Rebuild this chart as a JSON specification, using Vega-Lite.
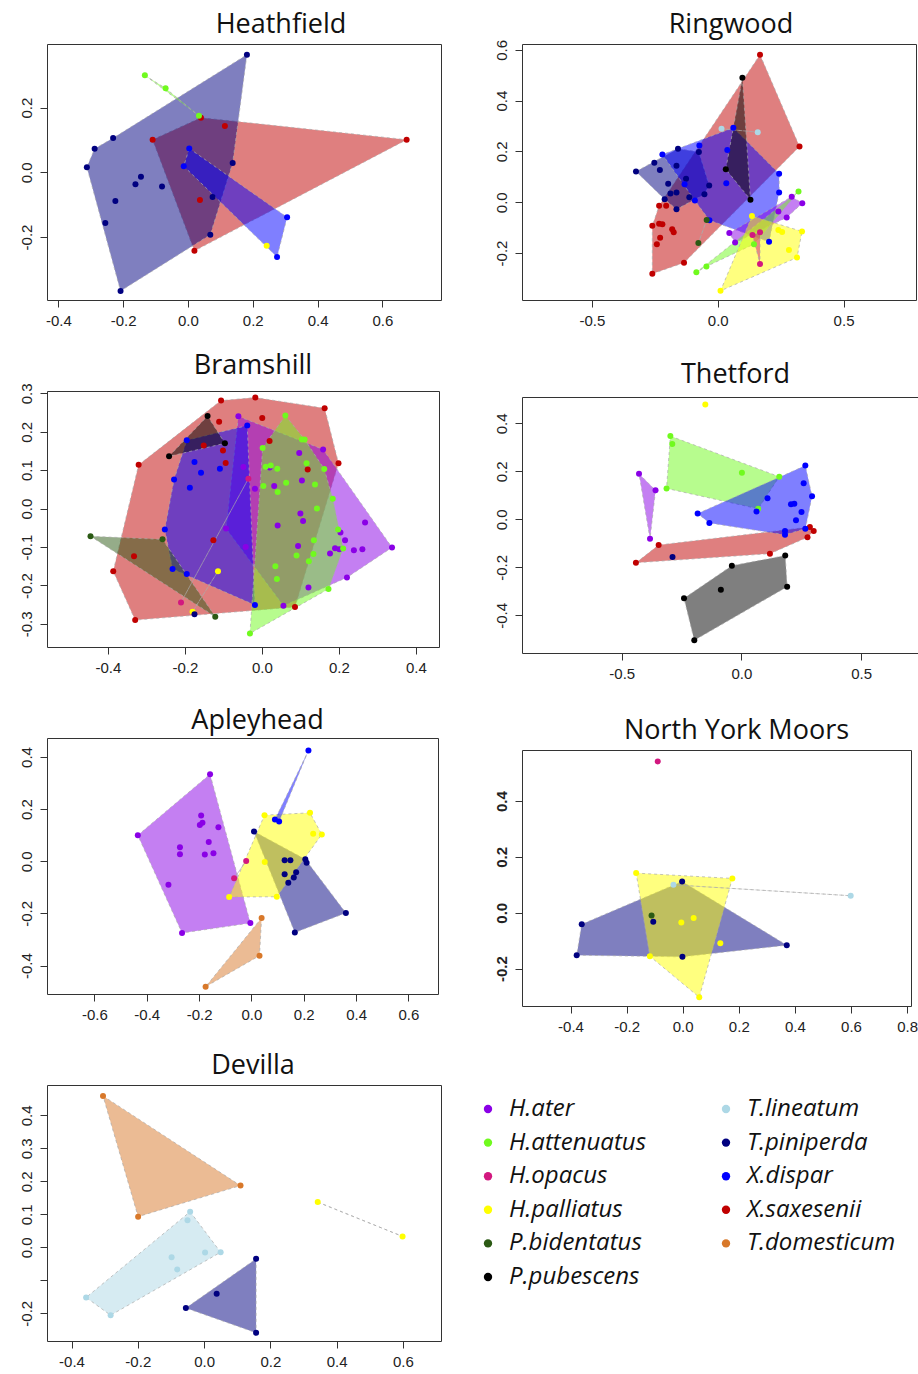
{
"$schema": "https://vega.github.io/schema/vega-lite/v6.json",
"background": "white",
"padding": {"left": 18, "top": 10, "right": 0, "bottom": 0},
"config": {
  "view": {"stroke": "#333", "strokeWidth": 1},
  "axis": {"domain": false, "grid": false, "ticks": true, "tickSize": 7, "tickColor": "#333", "labelFont": "Liberation Sans", "labelFontSize": 15, "labelColor": "#222", "labelOverlap": false, "labelFlush": false, "labelExpr": "replace(format(datum.value, '.1f'), '\u2212', '-')"},
  "axisX": {"labelPadding": 6},
  "axisY": {"labelAngle": -90, "labelAlign": "center", "labelBaseline": "bottom", "labelPadding": 6},
  "title": {"font": "Open Sans", "fontSize": 27, "fontWeight": "normal", "color": "#111", "baseline": "alphabetic", "frame": "group", "anchor": "middle"}
},
"datasets": {"pts": [
{"p":"Heathfield","sp":"X.saxesenii","x":-0.109,"y":0.101,"h":1},
{"p":"Heathfield","sp":"X.saxesenii","x":0.040,"y":0.169,"h":2},
{"p":"Heathfield","sp":"X.saxesenii","x":0.675,"y":0.101,"h":3},
{"p":"Heathfield","sp":"X.saxesenii","x":0.020,"y":-0.243,"h":4},
{"p":"Heathfield","sp":"X.saxesenii","x":0.114,"y":0.143},
{"p":"Heathfield","sp":"X.saxesenii","x":0.037,"y":-0.086},
{"p":"Heathfield","sp":"T.piniperda","x":0.182,"y":0.364,"h":1},
{"p":"Heathfield","sp":"T.piniperda","x":0.138,"y":0.029,"h":2},
{"p":"Heathfield","sp":"T.piniperda","x":0.069,"y":-0.193,"h":3},
{"p":"Heathfield","sp":"T.piniperda","x":-0.208,"y":-0.367,"h":4},
{"p":"Heathfield","sp":"T.piniperda","x":-0.312,"y":0.016,"h":5},
{"p":"Heathfield","sp":"T.piniperda","x":-0.288,"y":0.073,"h":6},
{"p":"Heathfield","sp":"T.piniperda","x":-0.231,"y":0.106,"h":7},
{"p":"Heathfield","sp":"T.piniperda","x":-0.255,"y":-0.157},
{"p":"Heathfield","sp":"T.piniperda","x":-0.224,"y":-0.089},
{"p":"Heathfield","sp":"T.piniperda","x":-0.162,"y":-0.037},
{"p":"Heathfield","sp":"T.piniperda","x":-0.145,"y":-0.014},
{"p":"Heathfield","sp":"T.piniperda","x":-0.080,"y":-0.044},
{"p":"Heathfield","sp":"T.piniperda","x":0.076,"y":-0.076},
{"p":"Heathfield","sp":"X.dispar","x":0.004,"y":0.074,"h":1},
{"p":"Heathfield","sp":"X.dispar","x":0.306,"y":-0.139,"h":2},
{"p":"Heathfield","sp":"X.dispar","x":0.275,"y":-0.262,"h":3},
{"p":"Heathfield","sp":"X.dispar","x":-0.013,"y":0.019,"h":4},
{"p":"Heathfield","sp":"H.attenuatus","x":-0.133,"y":0.300,"h":1},
{"p":"Heathfield","sp":"H.attenuatus","x":-0.069,"y":0.260,"h":2},
{"p":"Heathfield","sp":"H.attenuatus","x":0.034,"y":0.175,"h":3},
{"p":"Heathfield","sp":"H.palliatus","x":0.243,"y":-0.227},

{"p":"Ringwood","sp":"X.saxesenii","x":0.168,"y":0.581,"h":1},
{"p":"Ringwood","sp":"X.saxesenii","x":0.325,"y":0.219,"h":2},
{"p":"Ringwood","sp":"X.saxesenii","x":-0.134,"y":-0.238,"h":3},
{"p":"Ringwood","sp":"X.saxesenii","x":-0.260,"y":-0.282,"h":4},
{"p":"Ringwood","sp":"X.saxesenii","x":-0.260,"y":-0.093,"h":5},
{"p":"Ringwood","sp":"X.saxesenii","x":-0.233,"y":-0.014,"h":6},
{"p":"Ringwood","sp":"X.saxesenii","x":-0.205,"y":-0.014},
{"p":"Ringwood","sp":"X.saxesenii","x":-0.233,"y":-0.085},
{"p":"Ringwood","sp":"X.saxesenii","x":-0.220,"y":-0.087},
{"p":"Ringwood","sp":"X.saxesenii","x":-0.181,"y":-0.106},
{"p":"Ringwood","sp":"X.saxesenii","x":-0.175,"y":-0.118},
{"p":"Ringwood","sp":"X.saxesenii","x":-0.229,"y":-0.140},
{"p":"Ringwood","sp":"X.saxesenii","x":-0.242,"y":-0.165},
{"p":"Ringwood","sp":"T.piniperda","x":-0.325,"y":0.121,"h":1},
{"p":"Ringwood","sp":"T.piniperda","x":-0.158,"y":0.211,"h":2},
{"p":"Ringwood","sp":"T.piniperda","x":-0.075,"y":0.198,"h":3},
{"p":"Ringwood","sp":"T.piniperda","x":-0.034,"y":0.066,"h":4},
{"p":"Ringwood","sp":"T.piniperda","x":-0.053,"y":0.031,"h":5},
{"p":"Ringwood","sp":"T.piniperda","x":-0.164,"y":-0.028,"h":6},
{"p":"Ringwood","sp":"T.piniperda","x":-0.211,"y":0.012,"h":7},
{"p":"Ringwood","sp":"T.piniperda","x":-0.252,"y":0.155},
{"p":"Ringwood","sp":"T.piniperda","x":-0.230,"y":0.127},
{"p":"Ringwood","sp":"T.piniperda","x":-0.164,"y":0.144},
{"p":"Ringwood","sp":"T.piniperda","x":-0.197,"y":0.073},
{"p":"Ringwood","sp":"T.piniperda","x":-0.188,"y":0.034},
{"p":"Ringwood","sp":"T.piniperda","x":-0.164,"y":0.038},
{"p":"Ringwood","sp":"T.piniperda","x":-0.126,"y":0.092},
{"p":"Ringwood","sp":"T.piniperda","x":-0.113,"y":0.020},
{"p":"Ringwood","sp":"X.dispar","x":0.062,"y":0.293,"h":1},
{"p":"Ringwood","sp":"X.dispar","x":0.244,"y":0.112,"h":2},
{"p":"Ringwood","sp":"X.dispar","x":0.244,"y":0.038,"h":3},
{"p":"Ringwood","sp":"X.dispar","x":0.204,"y":-0.156,"h":4},
{"p":"Ringwood","sp":"X.dispar","x":-0.033,"y":-0.071,"h":5},
{"p":"Ringwood","sp":"X.dispar","x":-0.091,"y":0.007,"h":6},
{"p":"Ringwood","sp":"X.dispar","x":-0.220,"y":0.188,"h":7},
{"p":"Ringwood","sp":"X.dispar","x":-0.073,"y":0.223},
{"p":"Ringwood","sp":"X.dispar","x":0.038,"y":0.206},
{"p":"Ringwood","sp":"X.dispar","x":0.034,"y":0.075},
{"p":"Ringwood","sp":"X.dispar","x":-0.132,"y":0.071},
{"p":"Ringwood","sp":"P.pubescens","x":0.098,"y":0.490,"h":1},
{"p":"Ringwood","sp":"P.pubescens","x":0.130,"y":0.010,"h":2},
{"p":"Ringwood","sp":"P.pubescens","x":0.032,"y":0.130,"h":3},
{"p":"Ringwood","sp":"T.lineatum","x":0.015,"y":0.289,"h":1},
{"p":"Ringwood","sp":"T.lineatum","x":0.159,"y":0.276,"h":2},
{"p":"Ringwood","sp":"H.ater","x":0.294,"y":0.022,"h":1},
{"p":"Ringwood","sp":"H.ater","x":0.336,"y":-0.004,"h":2},
{"p":"Ringwood","sp":"H.ater","x":0.274,"y":-0.060,"h":3},
{"p":"Ringwood","sp":"H.ater","x":0.069,"y":-0.159,"h":4},
{"p":"Ringwood","sp":"H.ater","x":0.046,"y":-0.121,"h":5},
{"p":"Ringwood","sp":"H.ater","x":0.241,"y":-0.037},
{"p":"Ringwood","sp":"H.attenuatus","x":0.321,"y":0.042,"h":1},
{"p":"Ringwood","sp":"H.attenuatus","x":0.144,"y":-0.165,"h":2},
{"p":"Ringwood","sp":"H.attenuatus","x":-0.045,"y":-0.253,"h":3},
{"p":"Ringwood","sp":"H.attenuatus","x":-0.085,"y":-0.276,"h":4},
{"p":"Ringwood","sp":"P.bidentatus","x":-0.044,"y":-0.070,"h":1},
{"p":"Ringwood","sp":"P.bidentatus","x":-0.077,"y":-0.161,"h":2},
{"p":"Ringwood","sp":"H.palliatus","x":0.136,"y":-0.054,"h":1},
{"p":"Ringwood","sp":"H.palliatus","x":0.335,"y":-0.115,"h":2},
{"p":"Ringwood","sp":"H.palliatus","x":0.315,"y":-0.218,"h":3},
{"p":"Ringwood","sp":"H.palliatus","x":0.011,"y":-0.349,"h":4},
{"p":"Ringwood","sp":"H.palliatus","x":0.241,"y":-0.109},
{"p":"Ringwood","sp":"H.palliatus","x":0.256,"y":-0.117},
{"p":"Ringwood","sp":"H.palliatus","x":0.283,"y":-0.188},
{"p":"Ringwood","sp":"H.opacus","x":0.168,"y":-0.118,"h":1},
{"p":"Ringwood","sp":"H.opacus","x":0.168,"y":-0.243,"h":2},
{"p":"Ringwood","sp":"H.opacus","x":0.138,"y":-0.129,"h":3},

{"p":"Bramshill","sp":"X.saxesenii","x":-0.320,"y":0.114,"h":1},
{"p":"Bramshill","sp":"X.saxesenii","x":-0.106,"y":0.281,"h":2},
{"p":"Bramshill","sp":"X.saxesenii","x":-0.017,"y":0.289,"h":3},
{"p":"Bramshill","sp":"X.saxesenii","x":0.163,"y":0.261,"h":4},
{"p":"Bramshill","sp":"X.saxesenii","x":0.199,"y":0.118,"h":5},
{"p":"Bramshill","sp":"X.saxesenii","x":0.086,"y":-0.256,"h":6},
{"p":"Bramshill","sp":"X.saxesenii","x":-0.329,"y":-0.290,"h":7},
{"p":"Bramshill","sp":"X.saxesenii","x":-0.386,"y":-0.163,"h":8},
{"p":"Bramshill","sp":"X.saxesenii","x":-0.111,"y":0.226},
{"p":"Bramshill","sp":"X.saxesenii","x":0.001,"y":0.236},
{"p":"Bramshill","sp":"X.saxesenii","x":0.020,"y":0.176},
{"p":"Bramshill","sp":"X.saxesenii","x":-0.151,"y":0.164},
{"p":"Bramshill","sp":"X.saxesenii","x":-0.101,"y":0.151},
{"p":"Bramshill","sp":"X.saxesenii","x":-0.094,"y":0.119},
{"p":"Bramshill","sp":"X.saxesenii","x":0.119,"y":0.102},
{"p":"Bramshill","sp":"X.saxesenii","x":-0.126,"y":-0.082},
{"p":"Bramshill","sp":"X.saxesenii","x":-0.332,"y":-0.124},
{"p":"Bramshill","sp":"H.ater","x":-0.061,"y":0.240,"h":1},
{"p":"Bramshill","sp":"H.ater","x":0.159,"y":0.154,"h":2},
{"p":"Bramshill","sp":"H.ater","x":0.338,"y":-0.101,"h":3},
{"p":"Bramshill","sp":"H.ater","x":0.221,"y":-0.179,"h":4},
{"p":"Bramshill","sp":"H.ater","x":0.056,"y":-0.253,"h":5},
{"p":"Bramshill","sp":"H.ater","x":-0.093,"y":-0.052,"h":6},
{"p":"Bramshill","sp":"H.ater","x":0.097,"y":0.145},
{"p":"Bramshill","sp":"H.ater","x":-0.048,"y":0.108},
{"p":"Bramshill","sp":"H.ater","x":-0.018,"y":0.052},
{"p":"Bramshill","sp":"H.ater","x":0.032,"y":0.059},
{"p":"Bramshill","sp":"H.ater","x":0.020,"y":0.107},
{"p":"Bramshill","sp":"H.ater","x":0.104,"y":0.073},
{"p":"Bramshill","sp":"H.ater","x":0.100,"y":-0.013},
{"p":"Bramshill","sp":"H.ater","x":0.107,"y":-0.032},
{"p":"Bramshill","sp":"H.ater","x":0.041,"y":-0.044},
{"p":"Bramshill","sp":"H.ater","x":0.268,"y":-0.036},
{"p":"Bramshill","sp":"H.ater","x":0.204,"y":-0.062},
{"p":"Bramshill","sp":"H.ater","x":0.216,"y":-0.082},
{"p":"Bramshill","sp":"H.ater","x":0.190,"y":-0.103},
{"p":"Bramshill","sp":"H.ater","x":0.201,"y":-0.106},
{"p":"Bramshill","sp":"H.ater","x":0.177,"y":-0.117},
{"p":"Bramshill","sp":"H.ater","x":0.239,"y":-0.108},
{"p":"Bramshill","sp":"H.ater","x":0.261,"y":-0.106},
{"p":"Bramshill","sp":"H.ater","x":0.094,"y":-0.097},
{"p":"Bramshill","sp":"H.ater","x":-0.042,"y":-0.100},
{"p":"Bramshill","sp":"H.ater","x":0.121,"y":-0.205},
{"p":"Bramshill","sp":"X.dispar","x":-0.038,"y":0.216,"h":1},
{"p":"Bramshill","sp":"X.dispar","x":-0.018,"y":-0.251,"h":2},
{"p":"Bramshill","sp":"X.dispar","x":-0.232,"y":-0.157,"h":3},
{"p":"Bramshill","sp":"X.dispar","x":-0.252,"y":-0.054,"h":4},
{"p":"Bramshill","sp":"X.dispar","x":-0.228,"y":0.076,"h":5},
{"p":"Bramshill","sp":"X.dispar","x":-0.195,"y":0.178,"h":6},
{"p":"Bramshill","sp":"X.dispar","x":-0.175,"y":0.121},
{"p":"Bramshill","sp":"X.dispar","x":-0.158,"y":0.093},
{"p":"Bramshill","sp":"X.dispar","x":-0.109,"y":0.104},
{"p":"Bramshill","sp":"X.dispar","x":-0.187,"y":0.054},
{"p":"Bramshill","sp":"X.dispar","x":-0.195,"y":-0.170},
{"p":"Bramshill","sp":"H.attenuatus","x":0.061,"y":0.242,"h":1},
{"p":"Bramshill","sp":"H.attenuatus","x":0.111,"y":0.180,"h":2},
{"p":"Bramshill","sp":"H.attenuatus","x":0.162,"y":0.103,"h":3},
{"p":"Bramshill","sp":"H.attenuatus","x":0.184,"y":0.026,"h":4},
{"p":"Bramshill","sp":"H.attenuatus","x":0.211,"y":-0.104,"h":5},
{"p":"Bramshill","sp":"H.attenuatus","x":0.173,"y":-0.209,"h":6},
{"p":"Bramshill","sp":"H.attenuatus","x":-0.031,"y":-0.325,"h":7},
{"p":"Bramshill","sp":"H.attenuatus","x":0.002,"y":0.158,"h":8},
{"p":"Bramshill","sp":"H.attenuatus","x":0.104,"y":0.180},
{"p":"Bramshill","sp":"H.attenuatus","x":0.010,"y":0.109},
{"p":"Bramshill","sp":"H.attenuatus","x":0.023,"y":0.112},
{"p":"Bramshill","sp":"H.attenuatus","x":0.040,"y":0.104},
{"p":"Bramshill","sp":"H.attenuatus","x":0.116,"y":0.118},
{"p":"Bramshill","sp":"H.attenuatus","x":0.004,"y":0.059},
{"p":"Bramshill","sp":"H.attenuatus","x":0.041,"y":0.043},
{"p":"Bramshill","sp":"H.attenuatus","x":0.063,"y":0.067},
{"p":"Bramshill","sp":"H.attenuatus","x":0.138,"y":0.063},
{"p":"Bramshill","sp":"H.attenuatus","x":0.143,"y":0.000},
{"p":"Bramshill","sp":"H.attenuatus","x":0.198,"y":-0.054},
{"p":"Bramshill","sp":"H.attenuatus","x":0.135,"y":-0.082},
{"p":"Bramshill","sp":"H.attenuatus","x":0.134,"y":-0.118},
{"p":"Bramshill","sp":"H.attenuatus","x":0.090,"y":-0.122},
{"p":"Bramshill","sp":"H.attenuatus","x":0.122,"y":-0.137},
{"p":"Bramshill","sp":"H.attenuatus","x":0.035,"y":-0.150},
{"p":"Bramshill","sp":"H.attenuatus","x":0.039,"y":-0.183},
{"p":"Bramshill","sp":"P.pubescens","x":-0.141,"y":0.241,"h":1},
{"p":"Bramshill","sp":"P.pubescens","x":-0.096,"y":0.170,"h":2},
{"p":"Bramshill","sp":"P.pubescens","x":-0.241,"y":0.136,"h":3},
{"p":"Bramshill","sp":"P.bidentatus","x":-0.445,"y":-0.072,"h":1},
{"p":"Bramshill","sp":"P.bidentatus","x":-0.258,"y":-0.080,"h":2},
{"p":"Bramshill","sp":"P.bidentatus","x":-0.121,"y":-0.281,"h":3},
{"p":"Bramshill","sp":"H.palliatus","x":-0.114,"y":-0.163,"h":1},
{"p":"Bramshill","sp":"H.palliatus","x":-0.180,"y":-0.268,"h":2},
{"p":"Bramshill","sp":"H.opacus","x":-0.035,"y":0.078,"h":1},
{"p":"Bramshill","sp":"H.opacus","x":-0.210,"y":-0.244,"h":2},
{"p":"Bramshill","sp":"T.piniperda","x":-0.175,"y":-0.275},

{"p":"Thetford","sp":"X.saxesenii","x":-0.441,"y":-0.181,"h":1},
{"p":"Thetford","sp":"X.saxesenii","x":-0.346,"y":-0.107,"h":2},
{"p":"Thetford","sp":"X.saxesenii","x":0.286,"y":-0.032,"h":3},
{"p":"Thetford","sp":"X.saxesenii","x":0.302,"y":-0.049,"h":4},
{"p":"Thetford","sp":"X.saxesenii","x":0.276,"y":-0.075,"h":5},
{"p":"Thetford","sp":"X.saxesenii","x":0.119,"y":-0.143,"h":6},
{"p":"Thetford","sp":"P.pubescens","x":-0.240,"y":-0.329,"h":1},
{"p":"Thetford","sp":"P.pubescens","x":-0.040,"y":-0.193,"h":2},
{"p":"Thetford","sp":"P.pubescens","x":0.183,"y":-0.151,"h":3},
{"p":"Thetford","sp":"P.pubescens","x":0.191,"y":-0.281,"h":4},
{"p":"Thetford","sp":"P.pubescens","x":-0.197,"y":-0.504,"h":5},
{"p":"Thetford","sp":"P.pubescens","x":-0.086,"y":-0.293},
{"p":"Thetford","sp":"H.attenuatus","x":-0.297,"y":0.347,"h":1},
{"p":"Thetford","sp":"H.attenuatus","x":0.158,"y":0.178,"h":2},
{"p":"Thetford","sp":"H.attenuatus","x":0.070,"y":0.044,"h":3},
{"p":"Thetford","sp":"H.attenuatus","x":-0.313,"y":0.129,"h":4},
{"p":"Thetford","sp":"H.attenuatus","x":-0.289,"y":0.314},
{"p":"Thetford","sp":"H.attenuatus","x":0.002,"y":0.194},
{"p":"Thetford","sp":"X.dispar","x":-0.183,"y":0.024,"h":1},
{"p":"Thetford","sp":"X.dispar","x":0.267,"y":0.224,"h":2},
{"p":"Thetford","sp":"X.dispar","x":0.295,"y":0.096,"h":3},
{"p":"Thetford","sp":"X.dispar","x":0.267,"y":-0.039,"h":4},
{"p":"Thetford","sp":"X.dispar","x":0.182,"y":-0.064,"h":5},
{"p":"Thetford","sp":"X.dispar","x":-0.134,"y":-0.015,"h":6},
{"p":"Thetford","sp":"X.dispar","x":0.260,"y":0.150},
{"p":"Thetford","sp":"X.dispar","x":0.109,"y":0.088},
{"p":"Thetford","sp":"X.dispar","x":0.207,"y":0.063},
{"p":"Thetford","sp":"X.dispar","x":0.221,"y":0.065},
{"p":"Thetford","sp":"X.dispar","x":0.251,"y":0.031},
{"p":"Thetford","sp":"X.dispar","x":0.228,"y":-0.004},
{"p":"Thetford","sp":"X.dispar","x":0.063,"y":0.033},
{"p":"Thetford","sp":"X.dispar","x":0.182,"y":-0.049},
{"p":"Thetford","sp":"H.ater","x":-0.428,"y":0.190,"h":1},
{"p":"Thetford","sp":"H.ater","x":-0.359,"y":0.121,"h":2},
{"p":"Thetford","sp":"H.ater","x":-0.382,"y":-0.081,"h":3},
{"p":"Thetford","sp":"H.palliatus","x":-0.151,"y":0.479},
{"p":"Thetford","sp":"T.piniperda","x":-0.288,"y":-0.157},

{"p":"Apleyhead","sp":"H.ater","x":-0.158,"y":0.334,"h":1},
{"p":"Apleyhead","sp":"H.ater","x":-0.004,"y":-0.237,"h":2},
{"p":"Apleyhead","sp":"H.ater","x":-0.265,"y":-0.275,"h":3},
{"p":"Apleyhead","sp":"H.ater","x":-0.434,"y":0.100,"h":4},
{"p":"Apleyhead","sp":"H.ater","x":-0.192,"y":0.176},
{"p":"Apleyhead","sp":"H.ater","x":-0.197,"y":0.139},
{"p":"Apleyhead","sp":"H.ater","x":-0.187,"y":0.148},
{"p":"Apleyhead","sp":"H.ater","x":-0.126,"y":0.131},
{"p":"Apleyhead","sp":"H.ater","x":-0.273,"y":0.054},
{"p":"Apleyhead","sp":"H.ater","x":-0.273,"y":0.027},
{"p":"Apleyhead","sp":"H.ater","x":-0.163,"y":0.074},
{"p":"Apleyhead","sp":"H.ater","x":-0.178,"y":0.026},
{"p":"Apleyhead","sp":"H.ater","x":-0.145,"y":0.031},
{"p":"Apleyhead","sp":"H.ater","x":-0.317,"y":-0.090},
{"p":"Apleyhead","sp":"T.piniperda","x":0.010,"y":0.114,"h":1},
{"p":"Apleyhead","sp":"T.piniperda","x":0.206,"y":0.008,"h":2},
{"p":"Apleyhead","sp":"T.piniperda","x":0.361,"y":-0.198,"h":3},
{"p":"Apleyhead","sp":"T.piniperda","x":0.166,"y":-0.273,"h":4},
{"p":"Apleyhead","sp":"T.piniperda","x":0.127,"y":0.004},
{"p":"Apleyhead","sp":"T.piniperda","x":0.149,"y":0.004},
{"p":"Apleyhead","sp":"T.piniperda","x":0.211,"y":-0.006},
{"p":"Apleyhead","sp":"T.piniperda","x":0.127,"y":-0.050},
{"p":"Apleyhead","sp":"T.piniperda","x":0.171,"y":-0.042},
{"p":"Apleyhead","sp":"T.piniperda","x":0.162,"y":-0.062},
{"p":"Apleyhead","sp":"T.piniperda","x":0.141,"y":-0.082},
{"p":"Apleyhead","sp":"H.palliatus","x":0.050,"y":0.177,"h":1},
{"p":"Apleyhead","sp":"H.palliatus","x":0.224,"y":0.186,"h":2},
{"p":"Apleyhead","sp":"H.palliatus","x":0.269,"y":0.103,"h":3},
{"p":"Apleyhead","sp":"H.palliatus","x":0.097,"y":-0.136,"h":4},
{"p":"Apleyhead","sp":"H.palliatus","x":-0.085,"y":-0.137,"h":5},
{"p":"Apleyhead","sp":"H.palliatus","x":0.236,"y":0.106},
{"p":"Apleyhead","sp":"H.palliatus","x":0.051,"y":-0.003},
{"p":"Apleyhead","sp":"X.dispar","x":0.218,"y":0.425,"h":1},
{"p":"Apleyhead","sp":"X.dispar","x":0.106,"y":0.153,"h":2},
{"p":"Apleyhead","sp":"X.dispar","x":0.090,"y":0.160,"h":3},
{"p":"Apleyhead","sp":"T.domesticum","x":0.039,"y":-0.217,"h":1},
{"p":"Apleyhead","sp":"T.domesticum","x":0.031,"y":-0.362,"h":2},
{"p":"Apleyhead","sp":"T.domesticum","x":-0.175,"y":-0.481,"h":3},
{"p":"Apleyhead","sp":"H.opacus","x":-0.020,"y":0.001,"h":1},
{"p":"Apleyhead","sp":"H.opacus","x":-0.066,"y":-0.065,"h":2},

{"p":"North York Moors","sp":"T.piniperda","x":-0.002,"y":0.112,"h":1},
{"p":"North York Moors","sp":"T.piniperda","x":0.371,"y":-0.116,"h":2},
{"p":"North York Moors","sp":"T.piniperda","x":-0.001,"y":-0.158,"h":3},
{"p":"North York Moors","sp":"T.piniperda","x":-0.378,"y":-0.152,"h":4},
{"p":"North York Moors","sp":"T.piniperda","x":-0.360,"y":-0.041,"h":5},
{"p":"North York Moors","sp":"T.piniperda","x":-0.105,"y":-0.032},
{"p":"North York Moors","sp":"H.palliatus","x":-0.166,"y":0.142,"h":1},
{"p":"North York Moors","sp":"H.palliatus","x":0.177,"y":0.123,"h":2},
{"p":"North York Moors","sp":"H.palliatus","x":0.059,"y":-0.303,"h":3},
{"p":"North York Moors","sp":"H.palliatus","x":-0.117,"y":-0.156,"h":4},
{"p":"North York Moors","sp":"H.palliatus","x":-0.005,"y":-0.035},
{"p":"North York Moors","sp":"H.palliatus","x":0.039,"y":-0.019},
{"p":"North York Moors","sp":"H.palliatus","x":0.134,"y":-0.109},
{"p":"North York Moors","sp":"T.lineatum","x":-0.033,"y":0.100,"h":1},
{"p":"North York Moors","sp":"T.lineatum","x":0.599,"y":0.061,"h":2},
{"p":"North York Moors","sp":"P.bidentatus","x":-0.111,"y":-0.010},
{"p":"North York Moors","sp":"H.opacus","x":-0.089,"y":0.542},

{"p":"Devilla","sp":"T.domesticum","x":-0.305,"y":0.459,"h":1},
{"p":"Devilla","sp":"T.domesticum","x":0.110,"y":0.187,"h":2},
{"p":"Devilla","sp":"T.domesticum","x":-0.199,"y":0.093,"h":3},
{"p":"Devilla","sp":"T.lineatum","x":-0.042,"y":0.108,"h":1},
{"p":"Devilla","sp":"T.lineatum","x":0.050,"y":-0.015,"h":2},
{"p":"Devilla","sp":"T.lineatum","x":-0.282,"y":-0.206,"h":3},
{"p":"Devilla","sp":"T.lineatum","x":-0.356,"y":-0.152,"h":4},
{"p":"Devilla","sp":"T.lineatum","x":-0.050,"y":0.082},
{"p":"Devilla","sp":"T.lineatum","x":0.003,"y":-0.016},
{"p":"Devilla","sp":"T.lineatum","x":-0.098,"y":-0.030},
{"p":"Devilla","sp":"T.lineatum","x":-0.081,"y":-0.067},
{"p":"Devilla","sp":"T.piniperda","x":0.157,"y":-0.035,"h":1},
{"p":"Devilla","sp":"T.piniperda","x":0.157,"y":-0.259,"h":2},
{"p":"Devilla","sp":"T.piniperda","x":-0.055,"y":-0.184,"h":3},
{"p":"Devilla","sp":"T.piniperda","x":0.038,"y":-0.141},
{"p":"Devilla","sp":"H.palliatus","x":0.343,"y":0.137,"h":1},
{"p":"Devilla","sp":"H.palliatus","x":0.599,"y":0.033,"h":2}
]},
"bounds": "flush",
"spacing": 475,
"hconcat": [
 {"bounds": "flush", "spacing": 91, "vconcat": [
  {"width": 394, "height": 256, "title": {"text": "Heathfield", "dx": 37, "offset": 5},
   "data": {"name": "pts"}, "transform": [{"filter": "datum.p === 'Heathfield'"}],
   "encoding": {
    "x": {"field": "x", "type": "quantitative", "title": null, "scale": {"domain": [-0.435, 0.781], "nice": false, "zero": false}, "axis": {"values": [-0.4, -0.2, 0, 0.2, 0.4, 0.6]}},
    "y": {"field": "y", "type": "quantitative", "title": null, "scale": {"domain": [-0.395, 0.397], "nice": false, "zero": false}, "axis": {"values": [-0.2, 0, 0.2]}}},
   "layer": [
    {"transform": [{"filter": "isValid(datum.h)"}], "mark": {"type": "line", "filled": true, "interpolate": "linear-closed", "fillOpacity": 0.5, "stroke": "#aaa", "strokeWidth": 0.7, "strokeDash": [3, 3]},
     "encoding": {"fill": {"field": "sp", "type": "nominal", "legend": null, "scale": {"domain": ["H.ater","T.lineatum","H.attenuatus","T.piniperda","H.opacus","X.dispar","H.palliatus","X.saxesenii","P.bidentatus","T.domesticum","P.pubescens"], "range": ["#8A00E6","#ADD8E6","#70FA1E","#000080","#D2187F","#0000FF","#FFFF00","#C00000","#2B5A14","#D8782A","#000000"]}}, "order": {"field": "h", "type": "quantitative"}}},
    {"mark": {"type": "circle", "size": 36, "opacity": 1},
     "encoding": {"color": {"field": "sp", "type": "nominal", "title": null, "scale": {"domain": ["H.ater","H.attenuatus","H.opacus","H.palliatus","P.bidentatus","P.pubescens","T.lineatum","T.piniperda","X.dispar","X.saxesenii","T.domesticum"], "range": ["#8A00E6","#70FA1E","#D2187F","#FFFF00","#2B5A14","#000000","#ADD8E6","#000080","#0000FF","#C00000","#D8782A"]},
      "legend": {"orient": "none", "legendX": 429, "legendY": 1053, "columns": 2, "direction": "vertical", "symbolType": "circle", "symbolSize": 70, "labelFont": "Open Sans", "labelFontStyle": "italic", "labelFontSize": 24, "labelColor": "#111", "labelOffset": 9, "rowPadding": 9.6, "columnPadding": 67, "padding": 0, "labelLimit": 300, "symbolStrokeWidth": 0}}}}
   ]},
  {"width": 392, "height": 256, "title": {"text": "Bramshill", "dx": 10, "offset": 3},
   "data": {"name": "pts"}, "transform": [{"filter": "datum.p === 'Bramshill'"}],
   "encoding": {
    "x": {"field": "x", "type": "quantitative", "title": null, "scale": {"domain": [-0.558, 0.460], "nice": false, "zero": false}, "axis": {"values": [-0.4, -0.2, 0, 0.2, 0.4]}},
    "y": {"field": "y", "type": "quantitative", "title": null, "scale": {"domain": [-0.360, 0.306], "nice": false, "zero": false}, "axis": {"values": [-0.3, -0.2, -0.1, 0, 0.1, 0.2, 0.3]}}},
   "layer": [
    {"transform": [{"filter": "isValid(datum.h)"}], "mark": {"type": "line", "filled": true, "interpolate": "linear-closed", "fillOpacity": 0.5, "stroke": "#aaa", "strokeWidth": 0.7, "strokeDash": [3, 3]},
     "encoding": {"fill": {"field": "sp", "type": "nominal", "legend": null, "scale": {"domain": ["H.ater","T.lineatum","H.attenuatus","T.piniperda","H.opacus","X.dispar","H.palliatus","X.saxesenii","P.bidentatus","T.domesticum","P.pubescens"], "range": ["#8A00E6","#ADD8E6","#70FA1E","#000080","#D2187F","#0000FF","#FFFF00","#C00000","#2B5A14","#D8782A","#000000"]}}, "order": {"field": "h", "type": "quantitative"}}},
    {"mark": {"type": "circle", "size": 36, "opacity": 1},
     "encoding": {"color": {"field": "sp", "type": "nominal", "title": null, "scale": {"domain": ["H.ater","H.attenuatus","H.opacus","H.palliatus","P.bidentatus","P.pubescens","T.lineatum","T.piniperda","X.dispar","X.saxesenii","T.domesticum"], "range": ["#8A00E6","#70FA1E","#D2187F","#FFFF00","#2B5A14","#000000","#ADD8E6","#000080","#0000FF","#C00000","#D8782A"]}}}}
   ]},
  {"width": 391, "height": 256, "title": {"text": "Apleyhead", "dx": 15, "offset": 3},
   "data": {"name": "pts"}, "transform": [{"filter": "datum.p === 'Apleyhead'"}],
   "encoding": {
    "x": {"field": "x", "type": "quantitative", "title": null, "scale": {"domain": [-0.781, 0.713], "nice": false, "zero": false}, "axis": {"values": [-0.6, -0.4, -0.2, 0, 0.2, 0.4, 0.6]}},
    "y": {"field": "y", "type": "quantitative", "title": null, "scale": {"domain": [-0.509, 0.473], "nice": false, "zero": false}, "axis": {"values": [-0.4, -0.2, 0, 0.2, 0.4]}}},
   "layer": [
    {"transform": [{"filter": "isValid(datum.h)"}], "mark": {"type": "line", "filled": true, "interpolate": "linear-closed", "fillOpacity": 0.5, "stroke": "#aaa", "strokeWidth": 0.7, "strokeDash": [3, 3]},
     "encoding": {"fill": {"field": "sp", "type": "nominal", "legend": null, "scale": {"domain": ["H.ater","T.lineatum","H.attenuatus","T.piniperda","H.opacus","X.dispar","H.palliatus","X.saxesenii","P.bidentatus","T.domesticum","P.pubescens"], "range": ["#8A00E6","#ADD8E6","#70FA1E","#000080","#D2187F","#0000FF","#FFFF00","#C00000","#2B5A14","#D8782A","#000000"]}}, "order": {"field": "h", "type": "quantitative"}}},
    {"mark": {"type": "circle", "size": 36, "opacity": 1},
     "encoding": {"color": {"field": "sp", "type": "nominal", "title": null, "scale": {"domain": ["H.ater","H.attenuatus","H.opacus","H.palliatus","P.bidentatus","P.pubescens","T.lineatum","T.piniperda","X.dispar","X.saxesenii","T.domesticum"], "range": ["#8A00E6","#70FA1E","#D2187F","#FFFF00","#2B5A14","#000000","#ADD8E6","#000080","#0000FF","#C00000","#D8782A"]}}}}
   ]},
  {"width": 394, "height": 256, "title": {"text": "Devilla", "dx": 9, "offset": 5},
   "data": {"name": "pts"}, "transform": [{"filter": "datum.p === 'Devilla'"}],
   "encoding": {
    "x": {"field": "x", "type": "quantitative", "title": null, "scale": {"domain": [-0.474, 0.715], "nice": false, "zero": false}, "axis": {"values": [-0.4, -0.2, 0, 0.2, 0.4, 0.6]}},
    "y": {"field": "y", "type": "quantitative", "title": null, "scale": {"domain": [-0.284, 0.492], "nice": false, "zero": false}, "axis": {"values": [-0.2, -0.1, 0, 0.1, 0.2, 0.3, 0.4], "labelExpr": "abs(datum.value + 0.1) < 0.000001 ? '' : replace(format(datum.value, '.1f'), '\u2212', '-')"}}},
   "layer": [
    {"transform": [{"filter": "isValid(datum.h)"}], "mark": {"type": "line", "filled": true, "interpolate": "linear-closed", "fillOpacity": 0.5, "stroke": "#aaa", "strokeWidth": 0.7, "strokeDash": [3, 3]},
     "encoding": {"fill": {"field": "sp", "type": "nominal", "legend": null, "scale": {"domain": ["H.ater","T.lineatum","H.attenuatus","T.piniperda","H.opacus","X.dispar","H.palliatus","X.saxesenii","P.bidentatus","T.domesticum","P.pubescens"], "range": ["#8A00E6","#ADD8E6","#70FA1E","#000080","#D2187F","#0000FF","#FFFF00","#C00000","#2B5A14","#D8782A","#000000"]}}, "order": {"field": "h", "type": "quantitative"}}},
    {"mark": {"type": "circle", "size": 36, "opacity": 1},
     "encoding": {"color": {"field": "sp", "type": "nominal", "title": null, "scale": {"domain": ["H.ater","H.attenuatus","H.opacus","H.palliatus","P.bidentatus","P.pubescens","T.lineatum","T.piniperda","X.dispar","X.saxesenii","T.domesticum"], "range": ["#8A00E6","#70FA1E","#D2187F","#FFFF00","#2B5A14","#000000","#ADD8E6","#000080","#0000FF","#C00000","#D8782A"]}}}}
   ]}
 ]},
 {"bounds": "flush", "spacing": 97, "vconcat": [
  {"width": 394, "height": 256, "title": {"text": "Ringwood", "dx": 12, "offset": 0},
   "data": {"name": "pts"}, "transform": [{"filter": "datum.p === 'Ringwood'"}],
   "encoding": {
    "x": {"field": "x", "type": "quantitative", "title": null, "scale": {"domain": [-0.778, 0.788], "nice": false, "zero": false}, "axis": {"values": [-0.5, 0, 0.5]}},
    "y": {"field": "y", "type": "quantitative", "title": null, "scale": {"domain": [-0.385, 0.623], "nice": false, "zero": false}, "axis": {"values": [-0.2, 0, 0.2, 0.4, 0.6]}}},
   "layer": [
    {"transform": [{"filter": "isValid(datum.h)"}], "mark": {"type": "line", "filled": true, "interpolate": "linear-closed", "fillOpacity": 0.5, "stroke": "#aaa", "strokeWidth": 0.7, "strokeDash": [3, 3]},
     "encoding": {"fill": {"field": "sp", "type": "nominal", "legend": null, "scale": {"domain": ["H.ater","T.lineatum","H.attenuatus","T.piniperda","H.opacus","X.dispar","H.palliatus","X.saxesenii","P.bidentatus","T.domesticum","P.pubescens"], "range": ["#8A00E6","#ADD8E6","#70FA1E","#000080","#D2187F","#0000FF","#FFFF00","#C00000","#2B5A14","#D8782A","#000000"]}}, "order": {"field": "h", "type": "quantitative"}}},
    {"mark": {"type": "circle", "size": 36, "opacity": 1},
     "encoding": {"color": {"field": "sp", "type": "nominal", "title": null, "scale": {"domain": ["H.ater","H.attenuatus","H.opacus","H.palliatus","P.bidentatus","P.pubescens","T.lineatum","T.piniperda","X.dispar","X.saxesenii","T.domesticum"], "range": ["#8A00E6","#70FA1E","#D2187F","#FFFF00","#2B5A14","#000000","#ADD8E6","#000080","#0000FF","#C00000","#D8782A"]}}}}
   ]},
  {"width": 397, "height": 256, "title": {"text": "Thetford", "dx": 15, "offset": 8},
   "data": {"name": "pts"}, "transform": [{"filter": "datum.p === 'Thetford'"}],
   "encoding": {
    "x": {"field": "x", "type": "quantitative", "title": null, "scale": {"domain": [-0.917, 0.742], "nice": false, "zero": false}, "axis": {"values": [-0.5, 0, 0.5]}},
    "y": {"field": "y", "type": "quantitative", "title": null, "scale": {"domain": [-0.557, 0.510], "nice": false, "zero": false}, "axis": {"values": [-0.4, -0.2, 0, 0.2, 0.4]}}},
   "layer": [
    {"transform": [{"filter": "isValid(datum.h)"}], "mark": {"type": "line", "filled": true, "interpolate": "linear-closed", "fillOpacity": 0.5, "stroke": "#aaa", "strokeWidth": 0.7, "strokeDash": [3, 3]},
     "encoding": {"fill": {"field": "sp", "type": "nominal", "legend": null, "scale": {"domain": ["H.ater","T.lineatum","H.attenuatus","T.piniperda","H.opacus","X.dispar","H.palliatus","X.saxesenii","P.bidentatus","T.domesticum","P.pubescens"], "range": ["#8A00E6","#ADD8E6","#70FA1E","#000080","#D2187F","#0000FF","#FFFF00","#C00000","#2B5A14","#D8782A","#000000"]}}, "order": {"field": "h", "type": "quantitative"}}},
    {"mark": {"type": "circle", "size": 36, "opacity": 1},
     "encoding": {"color": {"field": "sp", "type": "nominal", "title": null, "scale": {"domain": ["H.ater","H.attenuatus","H.opacus","H.palliatus","P.bidentatus","P.pubescens","T.lineatum","T.piniperda","X.dispar","X.saxesenii","T.domesticum"], "range": ["#8A00E6","#70FA1E","#D2187F","#FFFF00","#2B5A14","#000000","#ADD8E6","#000080","#0000FF","#C00000","#D8782A"]}}}}
   ]},
  {"width": 389, "height": 256, "title": {"text": "North York Moors", "dx": 20, "offset": 5},
   "data": {"name": "pts"}, "transform": [{"filter": "datum.p === 'North York Moors'"}],
   "encoding": {
    "x": {"field": "x", "type": "quantitative", "title": null, "scale": {"domain": [-0.573, 0.814], "nice": false, "zero": false}, "axis": {"values": [-0.4, -0.2, 0, 0.2, 0.4, 0.6, 0.8]}},
    "y": {"field": "y", "type": "quantitative", "title": null, "scale": {"domain": [-0.334, 0.583], "nice": false, "zero": false}, "axis": {"values": [-0.2, 0, 0.2, 0.4], "labelFontWeight": "bold"}}},
   "layer": [
    {"transform": [{"filter": "isValid(datum.h)"}], "mark": {"type": "line", "filled": true, "interpolate": "linear-closed", "fillOpacity": 0.5, "stroke": "#aaa", "strokeWidth": 0.7, "strokeDash": [3, 3]},
     "encoding": {"fill": {"field": "sp", "type": "nominal", "legend": null, "scale": {"domain": ["H.ater","T.lineatum","H.attenuatus","T.piniperda","H.opacus","X.dispar","H.palliatus","X.saxesenii","P.bidentatus","T.domesticum","P.pubescens"], "range": ["#8A00E6","#ADD8E6","#70FA1E","#000080","#D2187F","#0000FF","#FFFF00","#C00000","#2B5A14","#D8782A","#000000"]}}, "order": {"field": "h", "type": "quantitative"}}},
    {"mark": {"type": "circle", "size": 36, "opacity": 1},
     "encoding": {"color": {"field": "sp", "type": "nominal", "title": null, "scale": {"domain": ["H.ater","H.attenuatus","H.opacus","H.palliatus","P.bidentatus","P.pubescens","T.lineatum","T.piniperda","X.dispar","X.saxesenii","T.domesticum"], "range": ["#8A00E6","#70FA1E","#D2187F","#FFFF00","#2B5A14","#000000","#ADD8E6","#000080","#0000FF","#C00000","#D8782A"]}}}}
   ]}
 ]}
]
}
